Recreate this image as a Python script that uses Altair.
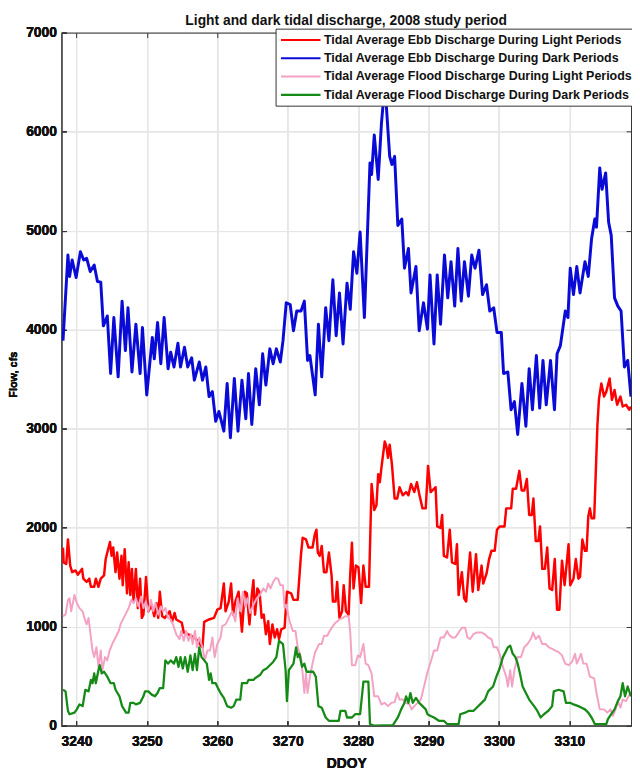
import altair as alt
import pandas as pd

LABELS = [
    "Tidal Average Ebb Discharge During Light Periods",
    "Tidal Average Ebb Discharge During Dark Periods",
    "Tidal Average Flood Discharge During Light Periods",
    "Tidal Average Flood Discharge During Dark Periods",
]
COLORS = ["#ff0000", "#0b0bd8", "#f4a2c3", "#168a16"]
WIDTHS = [2.5, 3.0, 2.0, 2.3]
X_TICKS = [3240, 3250, 3260, 3270, 3280, 3290, 3300, 3310]
Y_TICKS = [0, 1000, 2000, 3000, 4000, 5000, 6000, 7000]

# Tidal average ebb discharge, light periods (red)
ebb_light_day = [
    3238.09, 3238.18, 3238.55, 3238.79, 3239.11, 3239.39, 3239.86, 3240.19, 3240.79, 3240.98,
    3241.44, 3241.82, 3242.05, 3242.52, 3242.75, 3243.12, 3243.45, 3243.92, 3244.15, 3244.76,
    3244.99, 3245.22, 3245.55, 3245.78, 3246.11, 3246.39, 3246.57, 3246.85, 3247.18, 3247.41,
    3247.65, 3247.88, 3248.11, 3248.44, 3248.72, 3249.04, 3249.28, 3249.51, 3249.88, 3250.21,
    3250.68, 3251.05, 3251.37, 3251.61, 3251.84, 3252.17, 3252.54, 3253.24, 3253.57, 3253.94,
    3254.17, 3254.96, 3255.24, 3255.80, 3256.74, 3257.20, 3257.67, 3257.90, 3258.14, 3258.83,
    3259.53, 3260.00, 3260.47, 3260.93, 3261.17, 3261.63, 3261.96, 3262.24, 3262.56, 3263.03,
    3263.50, 3263.90, 3264.20, 3264.57, 3264.90, 3265.13, 3265.36, 3265.69, 3266.00, 3266.30,
    3266.60, 3266.90, 3267.23, 3267.46, 3267.83, 3268.16, 3268.49, 3268.77, 3269.09, 3269.56,
    3269.89, 3270.49, 3270.82, 3271.42, 3271.89, 3272.12, 3272.59, 3272.96, 3273.52, 3273.85,
    3274.08, 3274.27, 3274.55, 3274.83, 3275.15, 3275.50, 3275.85, 3276.23, 3276.41, 3276.79,
    3277.02, 3277.35, 3277.72, 3277.95, 3278.28, 3278.65, 3278.88, 3279.12, 3279.35, 3279.68,
    3280.05, 3280.42, 3280.75, 3281.07, 3281.54, 3281.91, 3282.29, 3282.60, 3282.85, 3283.08,
    3283.31, 3283.78, 3284.01, 3284.24, 3284.48, 3284.80, 3285.18, 3285.55, 3285.88, 3286.34,
    3286.81, 3287.14, 3287.51, 3287.98, 3288.35, 3288.67, 3289.14, 3289.60, 3289.93, 3290.30,
    3290.77, 3291.00, 3291.23, 3291.70, 3291.93, 3292.17, 3292.63, 3293.01, 3293.33, 3293.80,
    3294.03, 3294.27, 3294.73, 3295.06, 3295.34, 3295.66, 3295.90, 3296.27, 3296.74, 3297.06,
    3297.53, 3297.76, 3298.23, 3298.60, 3298.93, 3299.39, 3299.72, 3300.09, 3300.79, 3301.03,
    3301.73, 3301.96, 3302.43, 3302.89, 3303.22, 3303.59, 3303.96, 3304.29, 3304.66, 3304.89,
    3305.22, 3305.59, 3305.83, 3306.15, 3306.52, 3306.85, 3307.18, 3307.55, 3307.92, 3308.25,
    3308.58, 3308.95, 3309.32, 3309.88, 3310.12, 3310.58, 3310.91, 3311.28, 3311.51, 3311.84,
    3312.21, 3312.44, 3312.68, 3312.91, 3313.15, 3313.52, 3313.98, 3314.20, 3314.54, 3314.92,
    3315.24, 3315.71, 3316.04, 3316.41, 3316.78, 3317.25, 3317.57, 3318.04, 3318.51, 3318.74,
]
ebb_light_flow = [
    1799, 1650, 1634, 1881, 1617, 1551, 1568, 1525, 1584, 1485,
    1452, 1485, 1403, 1403, 1485, 1403, 1485, 1518, 1683, 1855,
    1716, 1799, 1551, 1749, 1485, 1716, 1419, 1782, 1337, 1650,
    1320, 1584, 1254, 1584, 1188, 1485, 1089, 1122, 1502, 1155,
    1221, 1106, 1238, 1089, 1353, 1106, 1089, 1155, 1049, 1139,
    1073, 1040, 941, 924, 891, 858, 809, 792, 1049, 1073,
    1089, 1172, 1188, 1436, 1155, 1254, 1436, 1122, 1254, 1353,
    950, 1353, 1337, 1023, 1320, 1469, 1122, 1386, 1350, 1089,
    1122, 924, 1056, 825, 1023, 891, 974, 875, 974, 990,
    1353, 1337, 1271, 1271, 1733, 1898, 1881, 1799, 1799, 1931,
    1980, 1749, 1716, 1815, 1551, 1551, 1749, 1518, 1254, 1254,
    1452, 1089, 1155, 1419, 1155, 1122, 1535, 1848, 1386, 1617,
    1600, 1238, 1617, 1403, 1403, 2442, 2178, 2227, 2541, 2459,
    2607, 2871, 2822, 2706, 2838, 2640, 2294, 2294, 2409, 2327,
    2360, 2327, 2442, 2360, 2459, 2343, 2195, 2195, 2624, 2360,
    2393, 2409, 2013, 1997, 2129, 1716, 1700, 1980, 1650, 1634,
    1832, 1320, 1551, 1287, 1254, 1551, 1749, 1353, 1733, 1370,
    1617, 1436, 1535, 1683, 1766, 1766, 1980, 2013, 2013, 2195,
    2195, 2393, 2393, 2574, 2376, 2376, 2492, 2129, 2129, 2294,
    1865, 1865, 2013, 1584, 1584, 1799, 1386, 1370, 1683, 1172,
    1172, 1667, 1419, 1832, 1419, 1485, 1683, 1485, 1502, 1881,
    1766, 1766, 2112, 2195, 2096, 2096, 3036, 3300, 3457, 3324,
    3374, 3507, 3291, 3391, 3241, 3324, 3224, 3241, 3191, 3224,
]

# Tidal average ebb discharge, dark periods (blue)
ebb_dark_day = [
    3238.09, 3238.79, 3239.02, 3239.39, 3239.95, 3240.56, 3241.03, 3241.45, 3241.96, 3242.52,
    3242.98, 3243.45, 3243.82, 3244.38, 3244.85, 3245.31, 3245.92, 3246.48, 3246.95, 3247.32,
    3247.88, 3248.44, 3249.04, 3249.37, 3249.98, 3250.77, 3251.05, 3251.52, 3251.98, 3252.45,
    3253.01, 3253.38, 3253.85, 3254.41, 3254.78, 3255.34, 3255.80, 3256.36, 3256.74, 3257.44,
    3257.90, 3258.37, 3258.83, 3259.30, 3259.77, 3260.23, 3260.93, 3261.40, 3261.86, 3262.42,
    3262.94, 3263.50, 3264.05, 3264.43, 3264.90, 3265.46, 3265.97, 3266.44, 3266.90, 3267.46,
    3267.93, 3268.39, 3268.95, 3269.33, 3269.79, 3270.35, 3270.82, 3271.28, 3271.89, 3272.36,
    3272.82, 3273.15, 3273.90, 3274.36, 3274.83, 3275.39, 3275.85, 3276.41, 3276.88, 3277.35,
    3277.86, 3278.42, 3278.88, 3279.35, 3279.82, 3280.28, 3280.89, 3281.21, 3281.68, 3281.91,
    3282.29, 3282.85, 3283.31, 3283.55, 3284.00, 3284.48, 3284.80, 3285.18, 3285.64, 3286.20,
    3286.58, 3287.14, 3287.51, 3288.21, 3288.67, 3289.28, 3289.84, 3290.21, 3290.77, 3291.23,
    3291.70, 3292.26, 3292.73, 3293.19, 3293.71, 3294.17, 3294.64, 3295.10, 3295.66, 3296.13,
    3296.60, 3297.16, 3297.67, 3298.23, 3298.69, 3299.25, 3299.72, 3300.33, 3300.65, 3301.26,
    3301.72, 3302.19, 3302.66, 3303.26, 3303.82, 3304.29, 3304.75, 3305.31, 3305.78, 3306.25,
    3306.71, 3307.32, 3307.88, 3308.25, 3308.72, 3309.42, 3309.79, 3310.12, 3310.58, 3311.05,
    3311.51, 3312.21, 3312.68, 3313.15, 3313.61, 3313.85, 3314.31, 3314.64, 3315.15, 3315.57,
    3315.94, 3316.41, 3316.88, 3317.34, 3317.81, 3318.28, 3318.74,
]
ebb_dark_flow = [
    3889, 4753, 4537, 4703, 4527, 4786, 4703, 4720, 4587, 4653,
    4487, 4480, 4038, 4138, 3557, 4122, 3523, 4288, 3789, 4221,
    3573, 4055, 3557, 4022, 3341, 3922, 3706, 4072, 3656, 4122,
    3606, 3773, 3623, 3862, 3623, 3822, 3623, 3716, 3490, 3673,
    3490, 3623, 3324, 3374, 3075, 3174, 2975, 3457, 2909, 3507,
    2975, 3490, 3100, 3557, 3042, 3606, 3241, 3756, 3440, 3806,
    3656, 3806, 3673, 3889, 4271, 4254, 3989, 4188, 4188, 4288,
    3689, 3739, 3341, 4055, 3523, 4221, 3889, 4504, 3939, 4371,
    3856, 4470, 4205, 4786, 4570, 4986, 4122, 4753, 5683, 5567,
    5966, 5517, 6082, 6280, 6265, 5750, 5667, 5750, 5052, 5118,
    4620, 4819, 4371, 4637, 3989, 4271, 4005, 4553, 3856, 4553,
    4055, 4753, 4321, 4687, 4238, 4819, 4288, 4687, 4338, 4753,
    4620, 4803, 4354, 4454, 4188, 4221, 3972, 3972, 3557, 3573,
    3191, 3274, 2942, 3457, 3025, 3606, 3191, 3739, 3208, 3689,
    3241, 3689, 3191, 3756, 3839, 4188, 4122, 4620, 4354, 4637,
    4371, 4687, 4537, 4919, 5118, 5035, 5633, 5417, 5583, 5085,
    4952, 4321, 4238, 4188, 3623, 3689, 3324,
]

# Tidal average flood discharge, light periods (pink)
flood_light_day = [
    3238.09, 3238.45, 3238.79, 3239.02, 3239.25, 3239.72, 3240.05, 3240.42, 3240.88, 3241.12,
    3241.44, 3241.72, 3242.05, 3242.28, 3242.52, 3242.84, 3243.12, 3243.45, 3243.68, 3244.06,
    3244.38, 3244.71, 3245.08, 3245.55, 3246.01, 3246.25, 3246.71, 3246.95, 3247.41, 3247.79,
    3248.11, 3248.44, 3248.81, 3249.18, 3249.51, 3249.84, 3250.21, 3250.58, 3250.91, 3251.23,
    3251.61, 3251.98, 3252.31, 3252.63, 3253.01, 3253.38, 3253.71, 3254.17, 3254.64, 3254.87,
    3255.24, 3255.57, 3255.90, 3256.27, 3256.50, 3256.83, 3257.11, 3257.44, 3257.90, 3258.23,
    3258.60, 3258.97, 3259.30, 3259.63, 3260.00, 3260.47, 3260.70, 3261.17, 3261.63, 3262.10,
    3262.56, 3262.89, 3263.27, 3263.64, 3263.97, 3264.29, 3264.66, 3265.03, 3265.60, 3266.06,
    3266.53, 3266.90, 3267.23, 3267.56, 3267.93, 3268.30, 3268.63, 3268.95, 3269.33, 3269.56,
    3269.79, 3270.26, 3270.73, 3271.10, 3271.42, 3271.89, 3272.12, 3272.36, 3272.59, 3272.82,
    3273.15, 3273.52, 3273.90, 3274.46, 3274.83, 3275.15, 3275.62, 3275.95, 3276.41, 3276.79,
    3277.35, 3277.82, 3278.18, 3278.65, 3278.88, 3279.12, 3279.58, 3279.96, 3280.29, 3280.75,
    3281.07, 3281.44, 3281.91, 3282.29, 3282.85, 3283.31, 3283.78, 3284.24, 3284.71, 3285.18,
    3285.55, 3285.88, 3286.34, 3286.81, 3287.28, 3287.60, 3287.98, 3288.44, 3288.91, 3289.37,
    3289.84, 3290.30, 3290.77, 3291.23, 3291.70, 3292.17, 3292.63, 3292.87, 3293.33, 3293.80,
    3294.27, 3294.73, 3295.20, 3295.52, 3295.90, 3296.36, 3296.83, 3297.53, 3298.00, 3298.46,
    3298.93, 3299.25, 3299.72, 3300.09, 3300.56, 3301.03, 3301.26, 3301.59, 3301.86, 3302.19,
    3302.66, 3303.12, 3303.59, 3304.05, 3304.52, 3304.85, 3305.22, 3305.69, 3306.15, 3306.62,
    3307.08, 3307.55, 3308.01, 3308.48, 3308.95, 3309.41, 3309.88, 3310.35, 3310.81, 3311.05,
    3311.65, 3311.98, 3312.44, 3312.91, 3313.52, 3313.85, 3314.31, 3314.92, 3315.38, 3315.85,
    3316.18, 3316.55, 3316.88, 3317.25, 3317.57, 3318.04, 3318.51,
]
flood_light_flow = [
    1106, 1122, 1271, 1287, 1155, 1320, 1238, 1188, 1155, 1089,
    1023, 1089, 891, 759, 693, 792, 594, 759, 561, 693,
    660, 759, 825, 891, 957, 1023, 1089, 1122, 1188, 1271,
    1238, 1287, 1205, 1304, 1188, 1254, 1155, 1271, 1155, 1238,
    1122, 1205, 1155, 1188, 1089, 1073, 1023, 924, 875, 957,
    858, 957, 858, 924, 825, 957, 792, 891, 792, 660,
    759, 759, 891, 693, 825, 891, 1006, 1023, 1089, 1155,
    1056, 1287, 1155, 1353, 1205, 1287, 1139, 1205, 1287, 1320,
    1386, 1353, 1436, 1386, 1452, 1492, 1485, 1419, 1419, 1188,
    1221, 1056, 957, 957, 792, 693, 528, 330, 528, 330,
    495, 627, 743, 825, 825, 908, 908, 957, 1006, 1040,
    1073, 1089, 1106, 1106, 941, 611, 611, 710, 693, 825,
    627, 611, 528, 297, 297, 215, 231, 198, 231, 238,
    330, 264, 264, 231, 215, 165, 198, 231, 264, 400,
    540, 643, 759, 759, 891, 891, 957, 924, 891, 891,
    941, 990, 990, 891, 875, 924, 941, 941, 924, 891,
    875, 792, 792, 726, 594, 495, 396, 561, 396, 561,
    693, 693, 792, 825, 875, 941, 875, 908, 825, 825,
    792, 776, 759, 743, 710, 627, 611, 643, 726, 627,
    726, 627, 627, 495, 478, 330, 165, 165, 132, 165,
    99, 165, 248, 182, 264, 248, 314,
]

# Tidal average flood discharge, dark periods (green)
flood_dark_day = [
    3238.09, 3238.45, 3238.79, 3239.02, 3239.72, 3240.05, 3240.42, 3240.88, 3241.26, 3241.72,
    3242.05, 3242.28, 3242.52, 3242.75, 3243.12, 3243.31, 3243.59, 3243.92, 3244.38, 3244.85,
    3245.31, 3245.55, 3246.11, 3246.48, 3247.04, 3247.41, 3247.65, 3248.11, 3248.44, 3249.04,
    3249.51, 3249.74, 3250.21, 3250.68, 3251.15, 3251.51, 3251.84, 3252.31, 3252.63, 3253.01,
    3253.38, 3253.85, 3254.17, 3254.50, 3254.78, 3255.10, 3255.43, 3255.80, 3256.18, 3256.50,
    3256.83, 3257.11, 3257.44, 3257.76, 3258.14, 3258.51, 3258.83, 3259.06, 3259.30, 3259.77,
    3260.09, 3260.47, 3260.93, 3261.40, 3261.96, 3262.33, 3262.70, 3263.26, 3263.50, 3264.20,
    3264.43, 3265.13, 3265.36, 3266.06, 3266.53, 3266.99, 3267.46, 3267.93, 3268.39, 3268.77,
    3269.33, 3269.70, 3269.89, 3270.17, 3270.49, 3270.82, 3271.19, 3271.42, 3271.66, 3272.03,
    3272.36, 3272.68, 3273.62, 3273.99, 3274.36, 3274.83, 3275.39, 3275.85, 3277.25, 3277.49,
    3278.18, 3278.42, 3279.12, 3279.58, 3280.28, 3280.75, 3281.45, 3281.68, 3282.29, 3284.94,
    3285.64, 3286.11, 3286.58, 3286.81, 3287.14, 3287.42, 3287.75, 3288.21, 3288.67, 3289.14,
    3289.60, 3289.84, 3290.30, 3290.77, 3291.47, 3292.17, 3292.63, 3294.27, 3294.50, 3295.20,
    3295.66, 3296.36, 3296.83, 3297.53, 3298.00, 3298.46, 3299.16, 3299.63, 3300.09, 3300.56,
    3300.93, 3301.26, 3301.59, 3301.96, 3302.33, 3302.66, 3302.98, 3303.36, 3303.82, 3304.29,
    3304.99, 3305.45, 3305.92, 3306.39, 3306.99, 3307.55, 3307.78, 3308.48, 3309.18, 3309.51,
    3310.12, 3310.58, 3311.28, 3311.74, 3312.21, 3312.68, 3313.15, 3313.61, 3315.24, 3315.47,
    3315.94, 3316.41, 3316.88, 3317.25, 3317.57, 3317.90, 3318.28, 3318.74,
]
flood_dark_flow = [
    363, 347, 149, 116, 132, 165, 215, 198, 363, 347,
    462, 429, 528, 429, 561, 611, 528, 545, 495, 429,
    429, 363, 297, 198, 132, 132, 231, 231, 215, 231,
    297, 347, 347, 314, 297, 330, 380, 380, 660, 627,
    660, 627, 693, 594, 693, 578, 693, 545, 710, 561,
    726, 561, 792, 693, 660, 627, 462, 528, 429, 429,
    380, 330, 281, 198, 182, 198, 264, 264, 429, 429,
    462, 462, 479, 512, 561, 578, 611, 644, 693, 858,
    825, 561, 248, 561, 594, 627, 792, 693, 726, 594,
    627, 545, 545, 495, 198, 182, 83, 50, 50, 149,
    149, 83, 83, 116, 116, 446, 446, 17, 0, 7,
    83, 165, 231, 297, 231, 330, 231, 281, 231, 198,
    165, 116, 99, 83, 50, 50, 17, 17, 116, 132,
    149, 149, 182, 231, 264, 347, 396, 495, 578, 693,
    743, 792, 809, 726, 693, 627, 528, 396, 330, 264,
    198, 149, 83, 116, 149, 198, 347, 363, 347, 231,
    231, 215, 198, 182, 165, 132, 83, 17, 17, 66,
    116, 165, 248, 297, 429, 297, 396, 297,
]

series = [
    (LABELS[0], ebb_light_day, ebb_light_flow),
    (LABELS[1], ebb_dark_day, ebb_dark_flow),
    (LABELS[2], flood_light_day, flood_light_flow),
    (LABELS[3], flood_dark_day, flood_dark_flow),
]
frames = []
for i, (lab, d, v) in enumerate(series):
    frames.append(pd.DataFrame({"series": lab, "order": i, "day": d, "flow": v}))
df = pd.concat(frames, ignore_index=True)

FONT = "Liberation Sans"
xscale = alt.Scale(domain=[3237.85, 3318.75], nice=False, zero=False)
yscale = alt.Scale(domain=[0, 7000], nice=False, zero=False)
cscale = alt.Scale(domain=LABELS, range=COLORS)

x_axis = alt.Axis(
    values=X_TICKS, format="d", title="DDOY", orient="bottom",
    labelFont=FONT, labelFontSize=14, labelFontWeight="bold", labelColor="#111",
    titleFont=FONT, titleFontSize=14, titleFontWeight="bold", titleColor="#111",
    titleBaseline="middle", titleY=38,
    labelPadding=14, tickSize={"expr": "-5"}, tickColor="#333",
    grid=True, gridColor="#e6e6e6", domainColor="#555", domainWidth=1.2,
    labelFlush=False,
)
y_axis = alt.Axis(
    values=Y_TICKS, format="d", title="Flow, cfs", orient="left",
    labelFont=FONT, labelFontSize=14, labelFontWeight="bold", labelColor="#111",
    titleFont=FONT, titleFontSize=11, titleFontWeight="bold", titleColor="#111",
    titleX=-48, titleY=346, titleAngle=270, titleBaseline="middle", titleAlign="center",
    labelPadding=10, tickSize={"expr": "-5"}, tickColor="#333",
    grid=True, gridColor="#e6e6e6", domainColor="#555", domainWidth=1.2,
    labelFlush=False,
)
x_top = alt.Axis(values=X_TICKS, orient="top", labels=False, title=None, grid=False,
                 tickSize={"expr": "-5"}, tickColor="#333", domainColor="#333")
y_right = alt.Axis(values=Y_TICKS, orient="right", labels=False, title=None, grid=False,
                   tickSize={"expr": "-5"}, tickColor="#333", domainColor="#333")

legend = alt.Legend(
    title=None, orient="none", legendX=217, legendY=-4, direction="vertical",
    symbolType="M-1,0H5.67", symbolSize=144, symbolStrokeWidth=2.2,
    labelFont=FONT, labelFontSize=12.6, labelFontWeight="bold", labelColor="#111",
    labelLimit=0, labelOffset=30, padding=4, rowPadding=3.5,
    strokeColor="#333", fillColor="white",
)

frame = alt.Chart(df).mark_line(opacity=0).encode(
    x=alt.X("day:Q", scale=xscale, axis=x_top),
    y=alt.Y("flow:Q", scale=yscale, axis=y_right),
    detail="series:N",
)

layers = [frame]
for i, lab in enumerate(LABELS):
    layers.append(
        alt.Chart(df).transform_filter(alt.datum.order == i).mark_line(
            strokeWidth=WIDTHS[i], clip=True, strokeJoin="round"
        ).encode(
            x=alt.X("day:Q", scale=xscale, axis=x_axis),
            y=alt.Y("flow:Q", scale=yscale, axis=y_axis),
            color=alt.Color("series:N", scale=cscale, legend=legend),
        )
    )

chart = alt.layer(*layers).resolve_axis(x="independent", y="independent").properties(
    width=577, height=702,
    title=alt.TitleParams(
        text="Light and dark tidal discharge, 2008 study period",
        font=FONT, fontSize=14, fontWeight="bold", color="#111",
        anchor="middle", offset=4, dy=6,
    ),
    autosize=alt.AutoSizeParams(type="none"),
    padding={"left": 54, "top": 20, "right": 1, "bottom": 45},
).configure_view(stroke="#333", strokeWidth=1).configure(background="white")

chart.save("out.html", embed_options={"renderer": "svg", "actions": False})
